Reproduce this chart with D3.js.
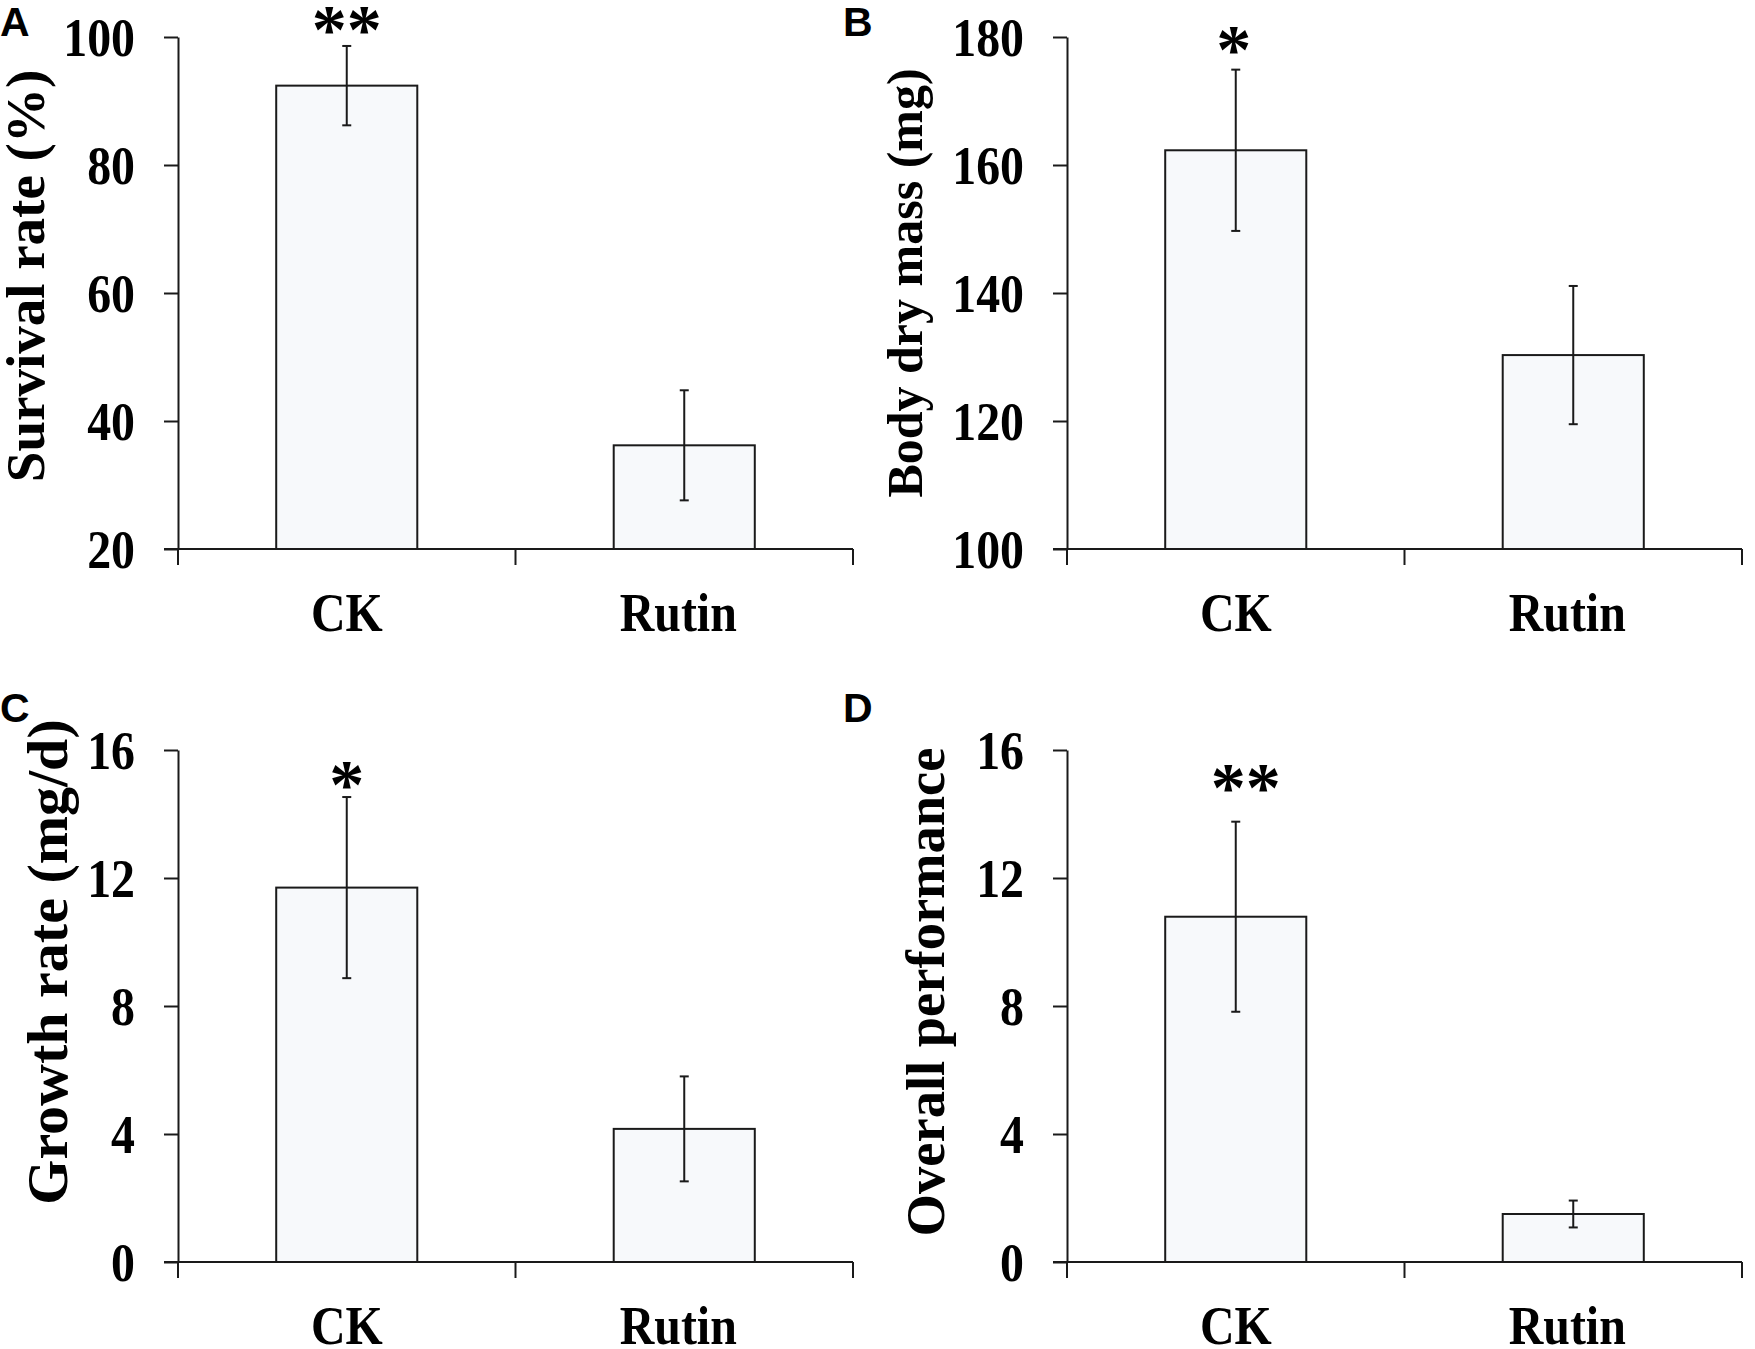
<!DOCTYPE html>
<html>
<head>
<meta charset="utf-8">
<script src="https://cdn.jsdelivr.net/npm/d3@7"></script>
<style>
  html, body { margin: 0; padding: 0; background: #fff; }
  svg { display: block; }
</style>
</head>
<body>
<svg id="chart" width="1755" height="1349"></svg>
<script>
// ---------------- data ----------------
const categories = ["CK", "Rutin"];

const survivalMean = [92.4, 36.2];
const survivalErr  = [6.2, 8.6];
const survivalSig  = ["**", ""];
const survivalTicks = [20, 40, 60, 80, 100];

const massMean = [162.3, 130.3];
const massErr  = [12.6, 10.8];
const massSig  = ["*", ""];
const massTicks = [100, 120, 140, 160, 180];

const growthMean = [11.7, 4.16];
const growthErr  = [2.83, 1.64];
const growthSig  = ["*", ""];
const growthTicks = [0, 4, 8, 12, 16];

const perfMean = [10.79, 1.50];
const perfErr  = [2.97, 0.42];
const perfSig  = ["**", ""];
const perfTicks = [0, 4, 8, 12, 16];

const panelLetters = ["A", "B", "C", "D"];
const panelTitles = ["Survival rate (%)", "Body dry mass (mg)", "Growth rate (mg/d)", "Overall performance"];

// ---------------- layout ----------------
const panels = [
  { letter: panelLetters[0], title: panelTitles[0], mean: survivalMean, err: survivalErr, sig: survivalSig, ticks: survivalTicks,
    x0: 178, x1: 853, yTop: 37, yBot: 549, titleX: 44, titleY: 276, titleSize: 55, letterX: 0, letterY: 36,
    sigDx: 0, sigDy: 7.5 },
  { letter: panelLetters[1], title: panelTitles[1], mean: massMean, err: massErr, sig: massSig, ticks: massTicks,
    x0: 1067, x1: 1742, yTop: 37, yBot: 549, titleX: 922, titleY: 283, titleSize: 50, letterX: 843, letterY: 36,
    sigDx: -2, sigDy: 3 },
  { letter: panelLetters[2], title: panelTitles[2], mean: growthMean, err: growthErr, sig: growthSig, ticks: growthTicks,
    x0: 178, x1: 853, yTop: 750, yBot: 1262, titleX: 67, titleY: 962, titleSize: 58, letterX: 0, letterY: 722,
    sigDx: 0, sigDy: 10.5 },
  { letter: panelLetters[3], title: panelTitles[3], mean: perfMean, err: perfErr, sig: perfSig, ticks: perfTicks,
    x0: 1067, x1: 1742, yTop: 750, yBot: 1262, titleX: 944, titleY: 992, titleSize: 54.5, letterX: 843, letterY: 722,
    sigDx: 10, sigDy: -11 }
];
const catLabelDx = [0, -6];

const INK = "#1a1a1a";
const FILL = "#f7f9fb";
const SERIF = "'Liberation Serif', 'Times New Roman', serif";
const SANS = "'Liberation Sans', Arial, sans-serif";
const SQX = 0.87; // horizontal squeeze of the figure's text

const svg = d3.select("#chart");

panels.forEach(p => {
  const g = svg.append("g");
  const x = d3.scaleBand().domain(categories).range([p.x0, p.x1]).padding(0);
  const y = d3.scaleLinear().domain([p.ticks[0], p.ticks[p.ticks.length - 1]]).range([p.yBot, p.yTop]);
  const barW = x.bandwidth() * 0.418;
  const rows = categories.map((c, i) => ({ c, i, m: p.mean[i], e: p.err[i], s: p.sig[i] }));

  // bars
  g.selectAll("rect.bar").data(rows).join("rect")
    .attr("x", d => x(d.c) + (x.bandwidth() - barW) / 2)
    .attr("y", d => y(d.m))
    .attr("width", barW)
    .attr("height", d => y(p.ticks[0]) - y(d.m))
    .attr("fill", FILL)
    .attr("stroke", INK)
    .attr("stroke-width", 2);

  // y axis
  const yAxis = g.append("g")
    .attr("transform", `translate(${p.x0},0)`)
    .call(d3.axisLeft(y).tickValues(p.ticks).tickSize(14).tickSizeOuter(0).tickFormat(d3.format("d")));
  yAxis.select(".domain").attr("stroke", INK).attr("stroke-width", 2);
  yAxis.selectAll(".tick line").attr("stroke", INK).attr("stroke-width", 2);
  yAxis.selectAll(".tick text")
    .attr("x", 0)
    .attr("dy", "0.34em")
    .attr("transform", `translate(-43,0) scale(${SQX},1)`)
    .attr("fill", "#000")
    .style("font-family", SERIF)
    .style("font-weight", "bold")
    .style("font-size", "55px");

  // x axis (ticks at band boundaries)
  const base = y(p.ticks[0]);
  g.append("line")
    .attr("x1", p.x0 - 14).attr("x2", p.x1)
    .attr("y1", base).attr("y2", base)
    .attr("stroke", INK).attr("stroke-width", 2);
  const bounds = categories.map(c => x(c)).concat([x(categories[categories.length - 1]) + x.bandwidth()]);
  g.selectAll("line.xt").data(bounds).join("line")
    .attr("x1", d => d).attr("x2", d => d)
    .attr("y1", base).attr("y2", base + 16)
    .attr("stroke", INK).attr("stroke-width", 2);

  // category labels
  g.selectAll("text.cat").data(categories).join("text")
    .attr("transform", (d, i) => `translate(${x(d) + x.bandwidth() / 2 + catLabelDx[i]},${base + 82}) scale(${SQX},1)`)
    .attr("text-anchor", "middle")
    .style("font-family", SERIF).style("font-weight", "bold").style("font-size", "55px")
    .text(d => d);

  // error bars
  const eb = g.selectAll("g.eb").data(rows).join("g")
    .attr("transform", d => `translate(${x(d.c) + x.bandwidth() / 2},0)`);
  eb.append("line").attr("x1", 0).attr("x2", 0)
    .attr("y1", d => y(d.m - d.e)).attr("y2", d => y(d.m + d.e))
    .attr("stroke", INK).attr("stroke-width", 2);
  eb.append("line").attr("x1", -4.5).attr("x2", 4.5)
    .attr("y1", d => y(d.m + d.e)).attr("y2", d => y(d.m + d.e))
    .attr("stroke", INK).attr("stroke-width", 2);
  eb.append("line").attr("x1", -4.5).attr("x2", 4.5)
    .attr("y1", d => y(d.m - d.e)).attr("y2", d => y(d.m - d.e))
    .attr("stroke", INK).attr("stroke-width", 2);

  // significance marks
  g.selectAll("text.sig").data(rows.filter(d => d.s)).join("text")
    .attr("x", d => x(d.c) + x.bandwidth() / 2 + p.sigDx)
    .attr("y", d => y(d.m + d.e) + p.sigDy)
    .attr("text-anchor", "middle")
    .style("font-family", SERIF).style("font-weight", "bold").style("font-size", "70px")
    .text(d => d.s);

  // y title
  g.append("text")
    .attr("transform", `translate(${p.titleX},${p.titleY}) rotate(-90)`)
    .attr("text-anchor", "middle")
    .style("font-family", SERIF).style("font-weight", "bold").style("font-size", p.titleSize + "px")
    .text(p.title);

  // panel letter
  g.append("text")
    .attr("x", p.letterX).attr("y", p.letterY)
    .style("font-family", SANS).style("font-weight", "bold").style("font-size", "41px")
    .text(p.letter);
});
</script>
</body>
</html>
